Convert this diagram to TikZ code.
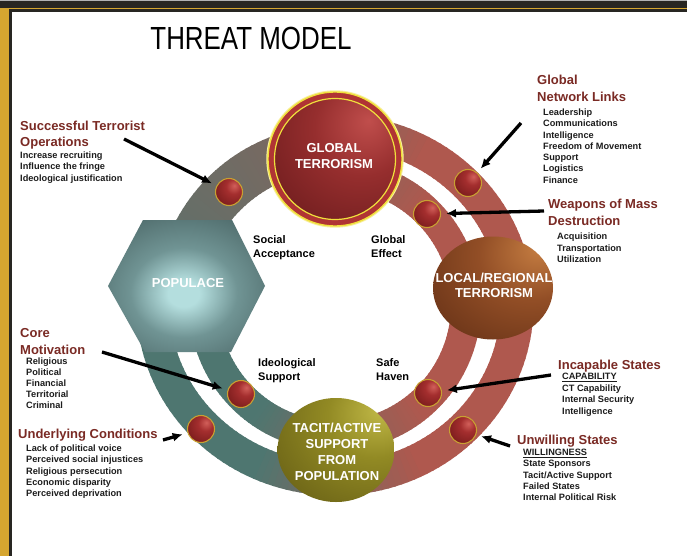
\documentclass[tikz,border=0pt]{standalone}
\usepackage{fontspec}
\setmainfont{Liberation Sans}
\usetikzlibrary{arrows.meta,calc,shapes.geometric}

\definecolor{gold}{RGB}{214,166,48}
\definecolor{framedark}{RGB}{40,38,34}
\definecolor{ringteal}{RGB}{78,118,112}
\definecolor{ringred}{RGB}{175,88,78}
\definecolor{titlered}{RGB}{122,42,36}
\definecolor{itemblack}{RGB}{28,28,28}
\definecolor{ballhi}{RGB}{210,96,90}
\definecolor{ballmid}{RGB}{164,46,46}
\definecolor{balldark}{RGB}{98,18,18}
\definecolor{ballrim}{RGB}{200,160,50}
\definecolor{glhi}{RGB}{192,78,76}
\definecolor{glmid}{RGB}{150,46,46}
\definecolor{gldark}{RGB}{86,18,20}
\definecolor{globalring}{RGB}{176,52,52}
\definecolor{glow}{RGB}{240,224,60}
\definecolor{lohi}{RGB}{198,126,66}
\definecolor{lomid}{RGB}{146,78,38}
\definecolor{lodark}{RGB}{72,30,12}
\definecolor{tahi}{RGB}{194,186,72}
\definecolor{tamid}{RGB}{146,138,36}
\definecolor{tadark}{RGB}{84,76,14}
\definecolor{hexhi}{RGB}{180,222,222}
\definecolor{hexmid}{RGB}{112,148,148}
\definecolor{hexdark}{RGB}{78,106,106}

\pgfdeclareradialshading{ballshade}{\pgfpoint{10bp}{12bp}}{color(0bp)=(ballhi); color(14bp)=(ballmid); color(50bp)=(balldark); color(100bp)=(balldark)}
\pgfdeclareradialshading{globalshade}{\pgfpoint{14bp}{16bp}}{color(0bp)=(glhi); color(20bp)=(glmid); color(60bp)=(gldark); color(110bp)=(gldark)}
\pgfdeclareradialshading{localshade}{\pgfpoint{20bp}{20bp}}{color(0bp)=(lohi); color(22bp)=(lomid); color(68bp)=(lodark); color(110bp)=(lodark)}
\pgfdeclareradialshading{tacitshade}{\pgfpoint{20bp}{20bp}}{color(0bp)=(tahi); color(20bp)=(tamid); color(62bp)=(tadark); color(110bp)=(tadark)}
\pgfdeclareradialshading{hexshade}{\pgfpoint{-1bp}{-3bp}}{color(0bp)=(hexhi); color(5bp)=(hexhi); color(17bp)=(hexmid); color(33bp)=(hexdark); color(100bp)=(hexdark)}

\newcommand\stack[1]{\begin{tabular}[t]{@{}l@{}}#1\end{tabular}}

\tikzset{
  ballnode/.style={circle, minimum size=27pt, inner sep=0pt, draw=ballrim, line width=1.1pt, shade, shading=ballshade},
  pointer/.style={line width=3.3pt, -{Latex[length=10pt,width=9pt]}, shorten >=5pt, black},
  ttl/.style={anchor=base west, inner sep=0pt, text=titlered, font=\fontsize{13}{16.5}\selectfont\bfseries},
  itm/.style={anchor=base west, inner sep=0pt, text=itemblack, font=\fontsize{9.2}{11.3}\selectfont\bfseries},
  inlab/.style={anchor=base west, inner sep=0pt, text=black, font=\fontsize{11}{14}\selectfont\bfseries},
  wlab/.style={text=white, align=center, inner sep=0pt, font=\fontsize{13}{15.5}\selectfont\bfseries},
}

\begin{document}
\begin{tikzpicture}[x=1pt,y=-1pt]
\useasboundingbox (0,0) rectangle (687,556);
\fill[white] (0,0) rectangle (687,556);

% frame
\fill[framedark] (0,0) rectangle (687,8.2);
\fill[gray!60] (0,0) rectangle (687,1.2);
\fill[gold] (0,8) rectangle (687,9.4);
\fill[gold] (0,8) rectangle (9.4,556);
\fill[framedark] (9.4,9.4) rectangle (687,12);
\fill[framedark] (9.4,9.4) rectangle (12,556);

% title
\node[font=\fontsize{32}{32}\selectfont, xscale=0.81, inner sep=0pt] (title) at (251,38.5) {THREAT MODEL};

% bands
\foreach \a in {-96,-94,...,186}{%
  \pgfmathtruncatemacro\mf{max(0,min(100,(335+182*cos(\a)-260)/1.6))}%
  \draw[line width=33pt, ringred!\mf!ringteal] (335,305) ++(\a:182 and 174) arc[start angle=\a, delta angle=2.6, x radius=182, y radius=174];
}
\foreach \a in {-96,-94,...,186}{%
  \pgfmathtruncatemacro\mf{max(0,min(100,(335+131*cos(\a)-260)/1.6))}%
  \draw[line width=30pt, ringred!\mf!ringteal] (335,305) ++(\a:131) arc[start angle=\a, delta angle=2.6, radius=131];
}
\foreach \a in {176,178,...,274}{%
  \pgfmathtruncatemacro\mf{10+(\a-176)*0.46}%
  \draw[line width=46pt, ringred!\mf!ringteal] (335,305) ++(\a:157) arc[start angle=\a, delta angle=2.6, radius=157];
}

% balls
\node[ballnode] (b1) at (229,192) {};
\node[ballnode] (b2) at (468,183) {};
\node[ballnode] (b3) at (427,214) {};
\node[ballnode] (b4) at (241,394) {};
\node[ballnode] (b5) at (201,429) {};
\node[ballnode] (b6) at (428,393) {};
\node[ballnode] (b7) at (463,430) {};

% populace hexagon
\shade[shading=hexshade] (108,286) -- (143,220) -- (232,220) -- (265,286) -- (231,352) -- (145,352) -- cycle;
\node[wlab] (populace) at (188,283) {POPULACE};

% global terrorism
\draw[glow!50, line width=2.4pt] (335,159) circle[radius=67.5];
\node[circle, minimum size=134pt, inner sep=0pt, fill=globalring, draw=glow, line width=1.4pt] (global) at (335,159) {};
\shadedraw[shading=globalshade, draw=glow, line width=1.2pt] (global.center) circle[radius=60.5];
\node[wlab] (globaltext) at (334,156) {GLOBAL\\TERRORISM};

% local/regional
\node[ellipse, minimum width=120pt, minimum height=103pt, inner sep=0pt, shade, shading=localshade] (local) at (493,288) {};
\node[wlab] (localtext) at (494,285.5) {LOCAL/REGIONAL\\TERRORISM};

% tacit/active
\node[ellipse, minimum width=117pt, minimum height=104pt, inner sep=0pt, shade, shading=tacitshade] (tacit) at (336,450) {};
\node[wlab, font=\fontsize{13}{16}\selectfont\bfseries] (tacittext) at (337,452) {TACIT/ACTIVE\\SUPPORT\\FROM\\POPULATION};

% inner labels
\node[inlab] (social) at (253,243) {\stack{Social\\Acceptance}};
\node[inlab] (geffect) at (371,243) {\stack{Global\\Effect}};
\node[inlab] (ideo) at (258,366) {\stack{Ideological\\Support}};
\node[inlab] (safe) at (376,366) {\stack{Safe\\Haven}};

% side texts
\node[ttl] (sto) at (20,130.5) {\stack{Successful Terrorist\\Operations}};
\node[itm] (stoi) at (20,158.5) {\stack{Increase recruiting\\Influence the fringe\\Ideological justification}};

\node[ttl, font=\fontsize{13}{17}\selectfont\bfseries] (gnl) at (537,84.5) {\stack{Global\\Network Links}};
\node[itm] (gnli) at (543,115.5) {\stack{Leadership\\Communications\\Intelligence\\Freedom of Movement\\Support\\Logistics\\Finance}};

\node[ttl] (wmd) at (548,208.5) {\stack{Weapons of Mass\\Destruction}};
\node[itm, font=\fontsize{9.2}{11.5}\selectfont\bfseries] (wmdi) at (557,239.5) {\stack{Acquisition\\Transportation\\Utilization}};

\node[ttl] (core) at (20,337.5) {\stack{Core\\Motivation}};
\node[itm, font=\fontsize{9.2}{11.1}\selectfont\bfseries] (corei) at (26,364.5) {\stack{Religious\\Political\\Financial\\Territorial\\Criminal}};

\node[ttl] (under) at (18,438.5) {Underlying Conditions};
\node[itm] (underi) at (26,451.5) {\stack{Lack of political voice\\Perceived social injustices\\Religious persecution\\Economic disparity\\Perceived deprivation}};

\node[ttl] (incap) at (558,369.5) {Incapable States};
\node[itm, font=\fontsize{9.2}{11.6}\selectfont\bfseries] (incapi) at (562,379.5) {\stack{\underline{CAPABILITY}\\CT Capability\\Internal Security\\Intelligence}};

\node[ttl] (unwill) at (517,444.5) {Unwilling States};
\node[itm] (unwilli) at (523,455.5) {\stack{\underline{WILLINGNESS}\\State Sponsors\\Tacit/Active Support\\Failed States\\Internal Political Risk}};

% arrows
\coordinate (t1) at (124,139);
\coordinate (t2) at (521,123);
\coordinate (t3) at (544,211);
\coordinate (t4) at (102,352);
\coordinate (t5) at (163,440);
\coordinate (t6) at (551,375);
\coordinate (t7) at (510,446);
\draw[pointer] (t1) -- (b1);
\draw[pointer] (t2) -- (b2);
\draw[pointer] (t3) -- (b3);
\draw[pointer] (t4) -- (b4);
\draw[pointer] (t5) -- (b5);
\draw[pointer] (t6) -- (b6);
\draw[pointer] (t7) -- (b7);
\end{tikzpicture}
\end{document}
